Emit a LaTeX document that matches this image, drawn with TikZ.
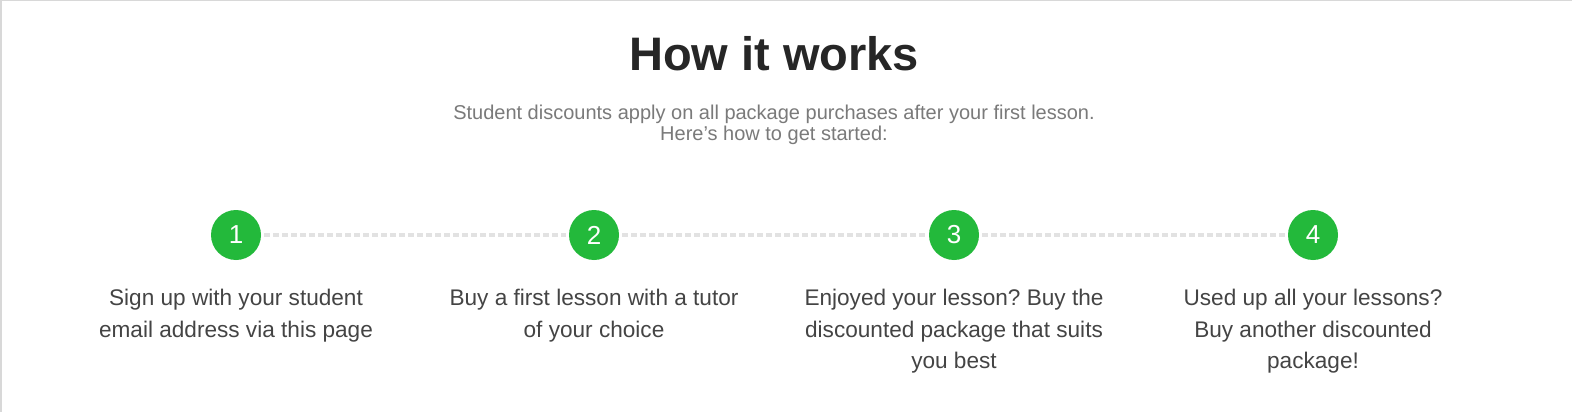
\documentclass[tikz,border=0pt]{standalone}
\usepackage{fontspec}
\setmainfont{Liberation Sans}
\frenchspacing
\definecolor{stepgreen}{HTML}{23B93B}
\definecolor{titlegray}{HTML}{262626}
\definecolor{subgray}{HTML}{7A7A7A}
\definecolor{bodygray}{HTML}{444444}
\definecolor{dashgray}{HTML}{E2E2E2}
\definecolor{framegray}{HTML}{D8D8D8}
\begin{document}
\begin{tikzpicture}[x=1pt,y=1pt,
  stepcircle/.style={circle,fill=stepgreen,minimum size=50pt,inner sep=0pt,text=white,font=\fontsize{26}{26}\selectfont},
  steptext/.style={align=center,text=bodygray,font=\fontsize{22.6}{31.5}\selectfont,anchor=north},
  link/.style={draw=dashgray,line width=4pt,dash pattern=on 6pt off 3pt,shorten <=3pt,shorten >=3pt}]
\useasboundingbox (0,0) rectangle (1572,-412);
\fill[white] (0,0) rectangle (1572,-412);
\draw[framegray,line width=1.5pt] (1,-412) -- (1,-0.75) -- (1572,-0.75);
\node[text=titlegray,font=\fontsize{47}{47}\selectfont\bfseries] (title) at (774,-54) {How it works};
\node[text=subgray,align=center,font=\fontsize{20}{21.5}\selectfont] (sub) at (774,-125) {Student discounts apply on all package purchases after your first lesson.\\Here’s how to get started:};
\node[stepcircle] (c1) at (236,-235) {1};
\node[stepcircle] (c2) at (594,-235) {2};
\node[stepcircle] (c3) at (954,-235) {3};
\node[stepcircle] (c4) at (1313,-235) {4};
\draw[link] (c1) -- (c2);
\draw[link] (c2) -- (c3);
\draw[link] (c3) -- (c4);
\node[steptext] (t1) at (236,-286) {Sign up with your student\\email address via this page};
\node[steptext] (t2) at (594,-286) {Buy a first lesson with a tutor\\of your choice};
\node[steptext] (t3) at (954,-286) {Enjoyed your lesson? Buy the\\discounted package that suits\\you best};
\node[steptext] (t4) at (1313,-286) {Used up all your lessons?\\Buy another discounted\\package!};
\end{tikzpicture}
\end{document}
